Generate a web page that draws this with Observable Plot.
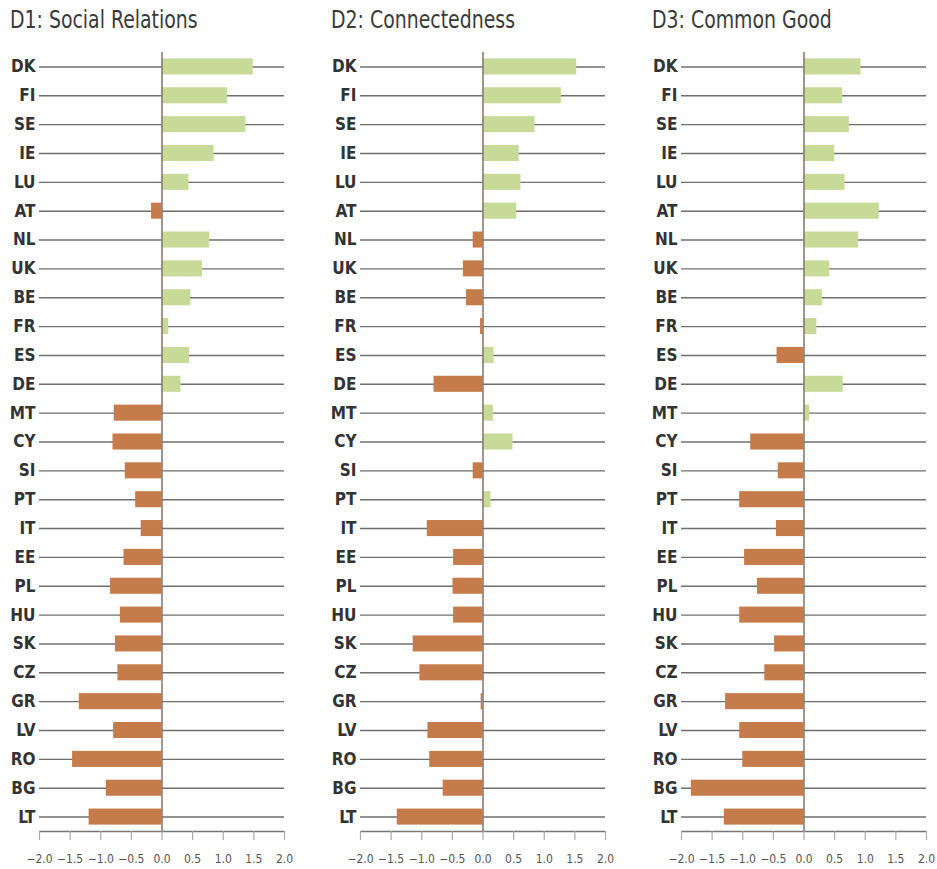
<!DOCTYPE html>
<html>
<head>
<meta charset="utf-8">
<script src="https://cdn.jsdelivr.net/npm/d3@7"></script>
<script src="https://cdn.jsdelivr.net/npm/@observablehq/plot@0.6"></script>
<style>
  html, body { margin: 0; padding: 0; background: #fff; }
  #root { position: relative; width: 937px; height: 869px; overflow: hidden; }
  .panel { position: absolute; top: 0; width: 294px; height: 869px; }
  .title { position: absolute; top: 5px; font-family: "Liberation Sans Narrow", "DejaVu Sans Condensed", sans-serif; font-size: 25px; color: #3a3a3a; white-space: nowrap; transform: scaleX(0.84); transform-origin: 0 0; font-weight: 500; }
</style>
</head>
<body>
<div id="root"></div>
<script>
const countries = ["DK","FI","SE","IE","LU","AT","NL","UK","BE","FR","ES","DE","MT","CY","SI","PT","IT","EE","PL","HU","SK","CZ","GR","LV","RO","BG","LT"];

const titles = ["D1: Social Relations", "D2: Connectedness", "D3: Common Good"];

const socialRelations = [1.49, 1.07, 1.37, 0.85, 0.44, -0.17, 0.78, 0.66, 0.47, 0.11, 0.45, 0.31, -0.78, -0.80, -0.60, -0.43, -0.34, -0.62, -0.84, -0.68, -0.76, -0.72, -1.35, -0.79, -1.46, -0.91, -1.19];
const connectedness   = [1.53, 1.28, 0.85, 0.59, 0.62, 0.55, -0.16, -0.32, -0.27, -0.04, 0.18, -0.80, 0.17, 0.49, -0.16, 0.13, -0.91, -0.48, -0.49, -0.48, -1.14, -1.03, -0.03, -0.90, -0.87, -0.65, -1.40];
const commonGood      = [0.93, 0.63, 0.74, 0.50, 0.67, 1.23, 0.89, 0.42, 0.30, 0.21, -0.44, 0.64, 0.09, -0.87, -0.42, -1.05, -0.45, -0.97, -0.76, -1.05, -0.48, -0.64, -1.28, -1.05, -1.00, -1.84, -1.30];

const xTicks = [-2, -1.5, -1, -0.5, 0, 0.5, 1, 1.5, 2];

const series = [socialRelations, connectedness, commonGood];
const panelLeft = [0, 321, 642];

const GREEN = "#c8da98";
const BROWN = "#c67b4a";
const FONT = "'Liberation Sans Narrow', 'DejaVu Sans Condensed', sans-serif";

const root = document.getElementById("root");

series.forEach((values, i) => {
  const data = countries.map((c, j) => ({country: c, value: values[j]}));
  const panel = document.createElement("div");
  panel.className = "panel";
  panel.style.left = panelLeft[i] + "px";
  const t = document.createElement("div");
  t.className = "title";
  t.style.left = "10px";
  t.textContent = titles[i];
  panel.appendChild(t);

  const marginTop = 12, step = 779 / 27;
  const chart = Plot.plot({
    width: 294,
    height: 828,
    marginLeft: 39,
    marginRight: 10,
    marginTop: marginTop,
    marginBottom: 828 - marginTop - 779,
    style: {fontFamily: FONT, background: "transparent", position: "absolute", top: "40px", left: "0px", maxWidth: "none"},
    x: {domain: [-2, 2], axis: null, label: null},
    y: {domain: countries, padding: 0, round: false, axis: null, label: null},
    marks: [
      Plot.ruleY(countries, {y: d => d, x1: -2, x2: 2, stroke: "#6f6f6f", strokeWidth: 1.4}),
      Plot.barX(data, {
        x: "value", y: "country",
        fill: d => d.value >= 0 ? GREEN : BROWN,
        insetTop: 6.4, insetBottom: 6.4
      }),
      Plot.ruleX([0], {stroke: "#8c7b70", strokeWidth: 1.6}),
      Plot.ruleY([countries[countries.length - 1]], {x1: -2, x2: 2, dy: step / 2, stroke: "#777", strokeWidth: 1.4}),
      Plot.axisY({
        label: null, tickSize: 0, tickPadding: 4, fontSize: 17, fontWeight: "bold", fill: "#333"
      }),
      Plot.axisX({
        label: null, ticks: xTicks, tickSize: 9, tickPadding: 14, tickFormat: d3.format(".1f"),
        fontSize: 12, fill: "#555", stroke: "#aaa", strokeWidth: 1.2
      })
    ]
  });
  panel.appendChild(chart);
  root.appendChild(panel);
});
</script>
</body>
</html>
